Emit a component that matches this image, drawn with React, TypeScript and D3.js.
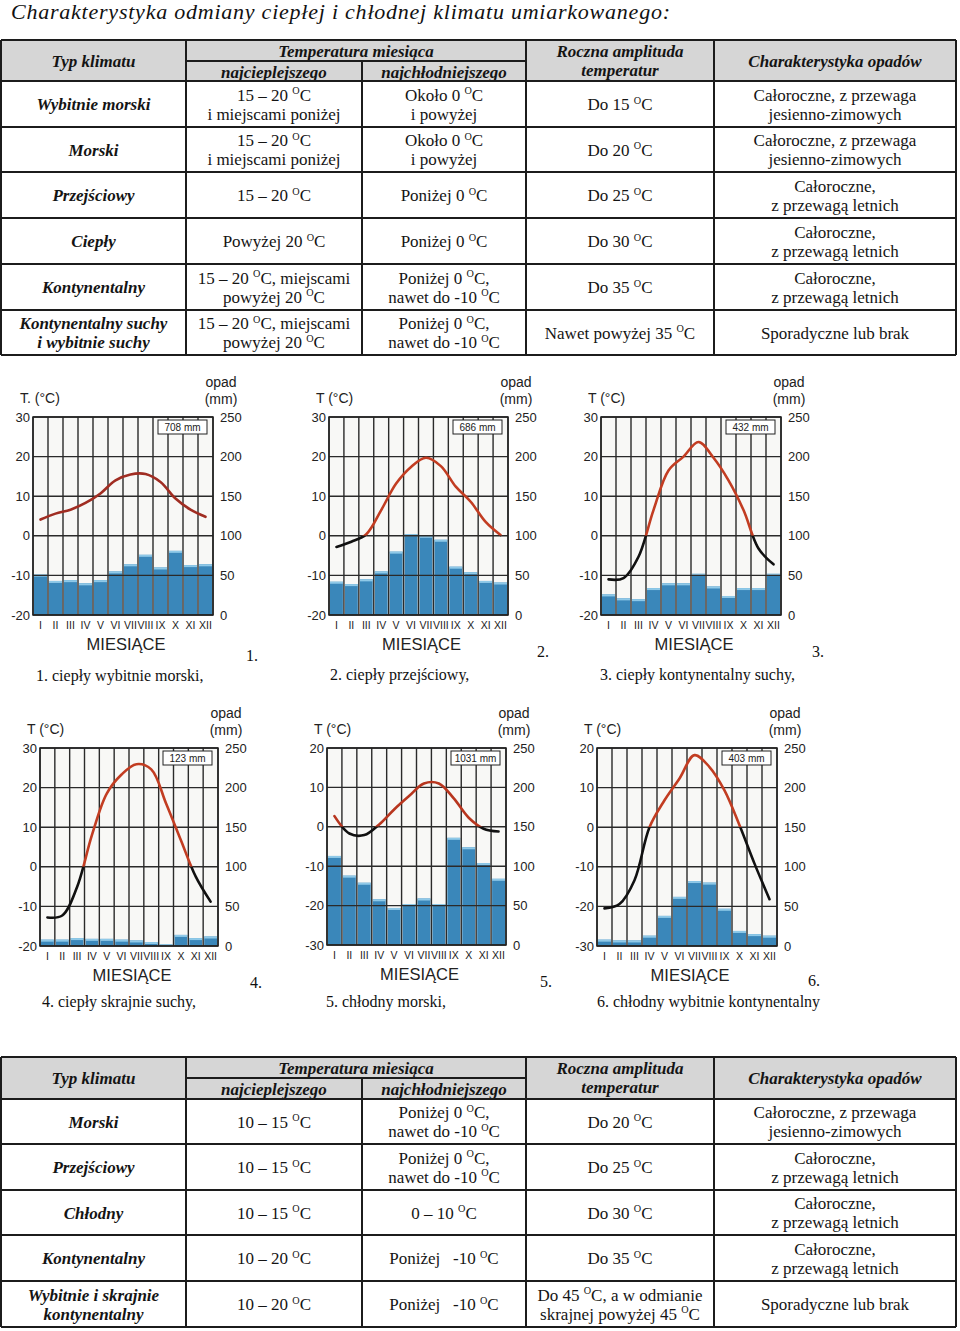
import React from "react";
import * as d3 from "d3";

// ---------- DATA ----------
const months = ["I", "II", "III", "IV", "V", "VI", "VII", "VIII", "IX", "X", "XI", "XII"];
const precipTicks = [0, 50, 100, 150, 200, 250];

const temp1 = [4.1, 5.6, 6.6, 8.3, 10.7, 14.0, 15.5, 15.6, 13.6, 9.4, 6.6, 4.8];
const precip1 = [51, 43, 44, 40, 44, 55, 64, 76, 60, 81, 63, 64];
const temp2 = [-2.8, -1.5, 0.4, 6.5, 13.2, 17.4, 19.7, 17.6, 12.4, 8.6, 3.5, 0.2];
const precip2 = [42, 39, 45, 55, 80, 102, 100, 95, 61, 54, 43, 41];
const temp3 = [-11, -10.7, -5.3, 6.5, 16.5, 20, 23.7, 19.7, 14, 6.5, -3.2, -7.2];
const precip3 = [26, 21, 20, 34, 40, 40, 52, 36, 24, 34, 34, 52];
const temp4 = [-12.8, -12.3, -5.1, 8, 18.5, 23.3, 25.9, 24.6, 16, 6.7, -2.5, -8.8];
const precip4 = [8, 8, 10, 9, 9, 8, 7, 5, 2, 14, 10, 12];
const temp5 = [2.7, -1.7, -2.1, 0.6, 4.4, 7.8, 11.0, 11.0, 7.2, 2.3, -0.5, -1.2];
const precip5 = [113, 88, 79, 58, 47, 52, 59, 52, 136, 124, 104, 84];
const temp6 = [-20.5, -19.4, -13.4, 0, 6.8, 12.3, 18.2, 15.2, 9.3, 0.5, -9.2, -18.2];
const precip6 = [8, 7, 7, 13, 38, 62, 82, 80, 47, 19, 15, 13];

const totals = ["708 mm", "686 mm", "432 mm", "123 mm", "1031 mm", "403 mm"];
const captions = [
  "1. ciepły wybitnie morski,",
  "2. ciepły przejściowy,",
  "3. ciepły kontynentalny suchy,",
  "4. ciepły skrajnie suchy,",
  "5. chłodny morski,",
  "6. chłodny wybitnie kontynentalny",
];
const numbers = ["1.", "2.", "3.", "4.", "5.", "6."];
const tempDomains: [number, number][] = [[-20, 30], [-20, 30], [-20, 30], [-20, 30], [-30, 20], [-30, 20]];
const tempLabels = ["T. (°C)", "T (°C)", "T (°C)", "T (°C)", "T (°C)", "T (°C)"];

const headType = "Typ klimatu";
const headTemp = "Temperatura miesiąca";
const headWarm = "najcieplejszego";
const headCold = "najchłodniejszego";
const headAmp = ["Roczna amplituda", "temperatur"];
const headPrecip = "Charakterystyka opadów";

const topType = [["Wybitnie morski"], ["Morski"], ["Przejściowy"], ["Ciepły"], ["Kontynentalny"], ["Kontynentalny suchy", "i wybitnie suchy"]];
const topWarmest = [["15 – 20 °C", "i miejscami poniżej"], ["15 – 20 °C", "i miejscami poniżej"], ["15 – 20 °C"], ["Powyżej 20 °C"], ["15 – 20 °C, miejscami", "powyżej 20 °C"], ["15 – 20 °C, miejscami", "powyżej 20 °C"]];
const topColdest = [["Około 0 °C", "i powyżej"], ["Około 0 °C", "i powyżej"], ["Poniżej 0 °C"], ["Poniżej 0 °C"], ["Poniżej 0 °C,", "nawet do -10 °C"], ["Poniżej 0 °C,", "nawet do -10 °C"]];
const topAmplitude = [["Do 15 °C"], ["Do 20 °C"], ["Do 25 °C"], ["Do 30 °C"], ["Do 35 °C"], ["Nawet powyżej 35 °C"]];
const topPrecip = [["Całoroczne, z przewaga", "jesienno-zimowych"], ["Całoroczne, z przewaga", "jesienno-zimowych"], ["Całoroczne,", "z przewagą letnich"], ["Całoroczne,", "z przewagą letnich"], ["Całoroczne,", "z przewagą letnich"], ["Sporadyczne lub brak"]];

const botType = [["Morski"], ["Przejściowy"], ["Chłodny"], ["Kontynentalny"], ["Wybitnie i skrajnie", "kontynentalny"]];
const botWarmest = [["10 – 15 °C"], ["10 – 15 °C"], ["10 – 15 °C"], ["10 – 20 °C"], ["10 – 20 °C"]];
const botColdest = [["Poniżej 0 °C,", "nawet do -10 °C"], ["Poniżej 0 °C,", "nawet do -10 °C"], ["0 – 10 °C"], ["Poniżej   -10 °C"], ["Poniżej   -10 °C"]];
const botAmplitude = [["Do 20 °C"], ["Do 25 °C"], ["Do 30 °C"], ["Do 35 °C"], ["Do 45 °C, a w odmianie", "skrajnej powyżej 45 °C"]];
const botPrecip = [["Całoroczne, z przewaga", "jesienno-zimowych"], ["Całoroczne,", "z przewagą letnich"], ["Całoroczne,", "z przewagą letnich"], ["Całoroczne,", "z przewagą letnich"], ["Sporadyczne lub brak"]];

const title = "Charakterystyka odmiany ciepłej i chłodnej klimatu umiarkowanego:";

// ---------- LAYOUT ----------
const serif = "'Liberation Serif', 'Times New Roman', serif";
const sans = "'Liberation Sans', Arial, sans-serif";
const colEdges = [1, 186, 362, 526, 714, 956];
const lineColors = ["#a02d22", "#c23d22", "#c23d22", "#c23d22", "#b8361f", "#c23d22"];

const chartLayouts = [
  { x0: 33, x1: 213, y0: 417, y1: 615, cap: [36, 681], num: [246, 661] },
  { x0: 329, x1: 508, y0: 417, y1: 615, cap: [330, 680], num: [537, 657] },
  { x0: 601, x1: 781, y0: 417, y1: 615, cap: [600, 680], num: [812, 657] },
  { x0: 40, x1: 218, y0: 748, y1: 946, cap: [42, 1007], num: [250, 988] },
  { x0: 327, x1: 506, y0: 748, y1: 945, cap: [326, 1007], num: [540, 987] },
  { x0: 597, x1: 777, y0: 748, y1: 946, cap: [597, 1007], num: [808, 986] },
];
const temps = [temp1, temp2, temp3, temp4, temp5, temp6];
const precips = [precip1, precip2, precip3, precip4, precip5, precip6];

function deg(s: string, size: number) {
  const parts = s.split("°");
  const out: React.ReactNode[] = [];
  parts.forEach((p, i) => {
    if (i === 0) out.push(<tspan key={"t" + i}>{p}</tspan>);
    else {
      out.push(<tspan key={"o" + i} fontSize={size * 0.6} dy={-size * 0.38}>O</tspan>);
      out.push(<tspan key={"t" + i} dy={size * 0.38}>{p}</tspan>);
    }
  });
  return out;
}

function CellText({ lines, cx, top, bottom, bold, size = 17 }: any) {
  const c = (top + bottom) / 2;
  const ys = lines.length === 1 ? [c + 6] : [c - 3.5, c + 15.5];
  return (
    <g>
      {lines.map((l: string, i: number) => (
        <text key={i} x={cx} y={ys[i]} textAnchor="middle" fontFamily={serif} fontSize={size}
          fontStyle={bold ? "italic" : "normal"} fontWeight={bold ? "bold" : "normal"} fill="#141414"
          style={{ whiteSpace: "pre" }}>
          {deg(l, size)}
        </text>
      ))}
    </g>
  );
}

function Table({ hTop, hMid, rowEdges, cols }: any) {
  const hBot = rowEdges[0];
  const bottom = rowEdges[rowEdges.length - 1];
  const L = colEdges[0], R = colEdges[colEdges.length - 1];
  const cx = (i: number) => (colEdges[i] + colEdges[i + 1]) / 2;
  const stroke = "#1c1c1c";
  return (
    <g>
      <rect x={L} y={hTop} width={R - L} height={hBot - hTop} fill="#d6d6d6" />
      <CellText lines={[headType]} cx={cx(0)} top={hTop} bottom={hBot} bold />
      <CellText lines={[headTemp]} cx={(colEdges[1] + colEdges[3]) / 2} top={hTop} bottom={hMid + 0.5} bold />
      <CellText lines={[headWarm]} cx={cx(1)} top={hMid} bottom={hBot + 1} bold />
      <CellText lines={[headCold]} cx={cx(2)} top={hMid} bottom={hBot + 1} bold />
      <CellText lines={headAmp} cx={cx(3)} top={hTop} bottom={hBot - 1} bold />
      <CellText lines={[headPrecip]} cx={cx(4)} top={hTop} bottom={hBot} bold />
      {cols[0].map((_: any, r: number) => (
        <g key={r}>
          {cols.map((col: string[][], ci: number) => (
            <CellText key={ci} lines={col[r]} cx={cx(ci)} top={rowEdges[r]} bottom={rowEdges[r + 1]} bold={ci === 0} />
          ))}
        </g>
      ))}
      {[hTop, ...rowEdges].map((y: number, i: number) => (
        <line key={"h" + i} x1={L} x2={R} y1={y} y2={y} stroke={stroke} strokeWidth={2} />
      ))}
      <line x1={colEdges[1]} x2={colEdges[3]} y1={hMid} y2={hMid} stroke={stroke} strokeWidth={2} />
      {colEdges.map((x: number, i: number) => (
        <line key={"v" + i} x1={x} x2={x} y1={i === 2 ? hMid : hTop} y2={bottom} stroke={stroke} strokeWidth={2} />
      ))}
    </g>
  );
}

function Climate({ idx }: { idx: number }) {
  const L = chartLayouts[idx];
  const tData = temps[idx];
  const pData = precips[idx];
  const x = d3.scaleBand<string>().domain(months).range([L.x0, L.x1]).paddingInner(0).paddingOuter(0);
  const yT = d3.scaleLinear().domain(tempDomains[idx]).range([L.y1, L.y0]);
  const yP = d3.scaleLinear().domain([0, 250]).range([L.y1, L.y0]);
  const tTicks = yT.ticks(5);
  const bw = x.bandwidth();
  const line = d3
    .line<number>()
    .x((_, i) => (x(months[i]) as number) + bw / 2)
    .y((d) => yT(d))
    .curve(d3.curveCatmullRom.alpha(0.5));
  const path = line(tData) || "";
  const y0 = yT(0);
  const grid = "#2a2a2a";
  const idA = `above${idx}`;
  const idB = `below${idx}`;
  const midX = (L.x0 + L.x1) / 2;
  return (
    <g>
      <defs>
        <clipPath id={idA}>
          <rect x={L.x0 - 5} y={L.y0 - 20} width={L.x1 - L.x0 + 10} height={y0 - L.y0 + 20} />
        </clipPath>
        <clipPath id={idB}>
          <rect x={L.x0 - 5} y={y0} width={L.x1 - L.x0 + 10} height={L.y1 - y0 + 20} />
        </clipPath>
      </defs>
      <rect x={L.x0} y={L.y0} width={L.x1 - L.x0} height={L.y1 - L.y0} fill="#f8f8f6" />
      {pData.map((p, i) => {
        const bx = (x(months[i]) as number) + 1;
        const top = yP(p);
        return (
          <g key={i}>
            <rect x={bx} y={top} width={bw - 2} height={L.y1 - top} fill="#3a87ba" />
            <rect x={bx} y={top} width={bw - 2} height={Math.min(2, L.y1 - top)} fill="#8fc9e8" />
          </g>
        );
      })}
      {tTicks.map((t) => (
        <line key={"g" + t} x1={L.x0} x2={L.x1} y1={yT(t)} y2={yT(t)} stroke={grid} strokeWidth={1.4} />
      ))}
      {d3.range(months.length + 1).map((i) => {
        const gx = i < months.length ? (x(months[i]) as number) : L.x1;
        return <line key={"v" + i} x1={gx} x2={gx} y1={L.y0} y2={L.y1} stroke={grid} strokeWidth={1.4} />;
      })}
      <rect x={L.x0} y={L.y0} width={L.x1 - L.x0} height={L.y1 - L.y0} fill="none" stroke="#222" strokeWidth={1.5} />
      <rect x={L.x1 - 55} y={L.y0 + 3} width={49} height={14} fill="#fff" stroke="#222" strokeWidth={1} />
      <text x={L.x1 - 30.5} y={L.y0 + 14} textAnchor="middle" fontFamily={sans} fontSize={10} fill="#222">
        {totals[idx]}
      </text>
      <path d={path} fill="none" stroke={lineColors[idx]} strokeWidth={2.6} clipPath={`url(#${idA})`} strokeLinecap="round" />
      <path d={path} fill="none" stroke="#111" strokeWidth={2.6} clipPath={`url(#${idB})`} strokeLinecap="round" />
      {tTicks.map((t) => (
        <text key={"lt" + t} x={L.x0 - 3} y={yT(t) + 4.5} textAnchor="end" fontFamily={sans} fontSize={13} fill="#222">
          {t}
        </text>
      ))}
      {precipTicks.map((p) => (
        <text key={"rp" + p} x={L.x1 + 7} y={yP(p) + 4.5} textAnchor="start" fontFamily={sans} fontSize={13} fill="#222">
          {p}
        </text>
      ))}
      {months.map((m) => (
        <text key={m} x={(x(m) as number) + bw / 2} y={L.y1 + 14} textAnchor="middle" fontFamily={sans} fontSize={10.5} fill="#222">
          {m}
        </text>
      ))}
      <text x={L.x0 - 13} y={L.y0 - 14} fontFamily={sans} fontSize={14} fill="#222">{tempLabels[idx]}</text>
      <text x={L.x1 + 8} y={L.y0 - 30} textAnchor="middle" fontFamily={sans} fontSize={14} fill="#222">opad</text>
      <text x={L.x1 + 8} y={L.y0 - 13} textAnchor="middle" fontFamily={sans} fontSize={14} fill="#222">(mm)</text>
      <text x={midX + 3} y={L.y1 + 35} textAnchor="middle" fontFamily={sans} fontSize={16.5} fill="#222">MIESIĄCE</text>
      <text x={L.num[0]} y={L.num[1]} fontFamily={serif} fontSize={16} fill="#111">{numbers[idx]}</text>
      <text x={L.cap[0]} y={L.cap[1]} fontFamily={serif} fontSize={16} fill="#111">{captions[idx]}</text>
    </g>
  );
}

export default function App() {
  return (
    <svg width={960} height={1331} viewBox="0 0 960 1331"
      style={{ position: "absolute", left: 0, top: 0, display: "block", background: "#fff" }}>
      <rect width={960} height={1331} fill="#fff" />
      <text x={11} y={19} fontFamily={serif} fontStyle="italic" fontSize={22} fill="#111" textLength={659} lengthAdjust="spacing">
        {title}
      </text>
      <Table hTop={40} hMid={61} rowEdges={[81, 127, 172, 218, 264, 310, 355]}
        cols={[topType, topWarmest, topColdest, topAmplitude, topPrecip]} />
      {d3.range(6).map((i) => (
        <Climate key={i} idx={i} />
      ))}
      <Table hTop={1057} hMid={1078} rowEdges={[1099, 1144, 1190, 1235, 1281, 1327]}
        cols={[botType, botWarmest, botColdest, botAmplitude, botPrecip]} />
    </svg>
  );
}
